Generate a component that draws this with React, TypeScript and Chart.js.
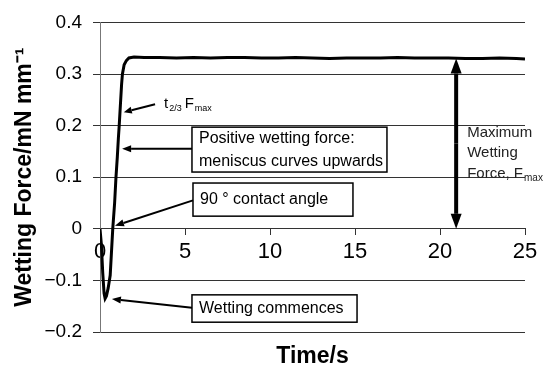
import React, { useEffect, useRef } from 'react';
import { Chart, registerables } from 'chart.js';

Chart.register(...registerables);

// ---- data ----
const timeS = [0, 0.08, 0.16, 0.24, 0.3, 0.38, 0.48, 0.6, 0.75, 0.86, 0.94, 1.02, 1.08, 1.13, 1.2, 1.27, 1.32, 1.42, 1.55, 1.7, 2.0, 2.6, 3.5, 4.5, 5.5, 6.5, 7.5, 8.5, 9.5, 10.5, 11.5, 12.5, 13.5, 14.5, 15.5, 16.5, 17.5, 18.5, 19.5, 20.5, 21.5, 22.5, 23.5, 24.5, 25];
const wettingForce = [0, -0.03, -0.085, -0.125, -0.135, -0.13, -0.115, -0.09, 0, 0.05, 0.1, 0.14, 0.175, 0.2, 0.24, 0.28, 0.3, 0.318, 0.326, 0.331, 0.333, 0.332, 0.332, 0.331, 0.332, 0.331, 0.332, 0.332, 0.331, 0.331, 0.332, 0.331, 0.330, 0.331, 0.331, 0.331, 0.332, 0.331, 0.331, 0.331, 0.330, 0.330, 0.331, 0.330, 0.329];
const yTickLabels = ['\u22120.2', '\u22120.1', '0', '0.1', '0.2', '0.3', '0.4'];
const xAxisTitle = 'Time/s';
const yAxisTitle = 'Wetting Force/mN mm\u207B\u00B9';
const fMax = 0.33;
const fMaxArrowTime = 20.95;
const tLabelMain = ['t', 'F'];
const tLabelSubs = ['2/3', 'max'];
const boxNotes = [
  { lines: ['Positive wetting force:', 'meniscus curves upwards'], t0: 5.41, t1: 16.88, v0: 0.197, v1: 0.11, fromV: 0.155, tipT: 1.3, tipV: 0.155 },
  { lines: ['90 \u00B0 contact angle'], t0: 5.47, t1: 14.88, v0: 0.0887, v1: 0.0245, fromV: 0.055, tipT: 0.88, tipV: 0.006 },
  { lines: ['Wetting commences'], t0: 5.41, t1: 15.12, v0: -0.128, v1: -0.181, fromV: -0.153, tipT: 0.7, tipV: -0.136 },
];
const maxLabelLines = ['Maximum', 'Wetting', 'Force, F'];

const FONT = '"Liberation Sans", Arial, sans-serif';

function arrow(ctx: CanvasRenderingContext2D, x1: number, y1: number, x2: number, y2: number, lw: number, hl: number, hw: number) {
  const ang = Math.atan2(y2 - y1, x2 - x1);
  const bx = x2 - hl * Math.cos(ang);
  const by = y2 - hl * Math.sin(ang);
  ctx.lineWidth = lw;
  ctx.beginPath();
  ctx.moveTo(x1, y1);
  ctx.lineTo(bx, by);
  ctx.stroke();
  ctx.beginPath();
  ctx.moveTo(x2, y2);
  ctx.lineTo(bx + (hw / 2) * Math.sin(ang), by - (hw / 2) * Math.cos(ang));
  ctx.lineTo(bx - (hw / 2) * Math.sin(ang), by + (hw / 2) * Math.cos(ang));
  ctx.closePath();
  ctx.fill();
}

const annotationPlugin = {
  id: 'wettingAnnotations',
  afterDatasetsDraw(chart: any) {
    const { ctx, scales } = chart;
    const x = scales.x;
    const y = scales.y;
    const px = (t: number) => x.getPixelForValue(t);
    const py = (v: number) => y.getPixelForValue(v);
    ctx.save();
    ctx.strokeStyle = '#000';
    ctx.fillStyle = '#000';

    // t2/3 Fmax label
    const lx = px(3.53);
    const ly = py(0.2415);
    arrow(ctx, px(3.24), ly, px(1.4), py(0.226), 2, 8, 7);
    ctx.textBaseline = 'middle';
    ctx.textAlign = 'left';
    let cx = lx + 4;
    for (let i = 0; i < tLabelMain.length; i++) {
      ctx.font = `15px ${FONT}`;
      ctx.fillText(tLabelMain[i], cx, ly);
      cx += ctx.measureText(tLabelMain[i]).width + 1;
      ctx.font = `9px ${FONT}`;
      ctx.fillText(tLabelSubs[i], cx, ly + 4);
      cx += ctx.measureText(tLabelSubs[i]).width + 3;
    }

    // boxed notes
    for (const b of boxNotes) {
      const x0 = px(b.t0), x1 = px(b.t1), y0 = py(b.v0), y1 = py(b.v1);
      ctx.fillStyle = '#fff';
      ctx.fillRect(x0, y0, x1 - x0, y1 - y0);
      ctx.lineWidth = 1.5;
      ctx.strokeStyle = '#000';
      ctx.strokeRect(x0, y0, x1 - x0, y1 - y0);
      ctx.fillStyle = '#000';
      ctx.font = `16px ${FONT}`;
      ctx.textAlign = 'left';
      ctx.textBaseline = 'middle';
      const n = b.lines.length;
      const h = y1 - y0;
      const lh = 23;
      const startY = y0 + h / 2 - ((n - 1) * lh) / 2;
      b.lines.forEach((s, i) => ctx.fillText(s, x0 + 7, startY + i * lh));
      arrow(ctx, x0, py(b.fromV), px(b.tipT), py(b.tipV), 2, 9, 7);
    }

    // maximum wetting force double arrow
    const ax = px(fMaxArrowTime);
    const top = py(fMax);
    const bot = py(0);
    const mid = (top + bot) / 2;
    arrow(ctx, ax, mid, ax, top, 4, 15, 11);
    arrow(ctx, ax, mid, ax, bot, 4, 15, 11);

    ctx.fillStyle = '#222';
    ctx.font = `15px ${FONT}`;
    ctx.textAlign = 'left';
    ctx.textBaseline = 'middle';
    const tx = ax + 11;
    const baseY = py(0.186);
    maxLabelLines.forEach((s, i) => {
      ctx.font = `15px ${FONT}`;
      ctx.fillText(s, tx, baseY + i * 20.5);
      if (i === maxLabelLines.length - 1) {
        const w = ctx.measureText(s).width;
        ctx.font = `10px ${FONT}`;
        ctx.fillText('max', tx + w + 1, baseY + i * 20.5 + 4);
      }
    });
    ctx.restore();
  },
};

export default function App() {
  const ref = useRef<HTMLCanvasElement | null>(null);
  useEffect(() => {
    document.body.style.margin = '0';
    const canvas = ref.current;
    if (!canvas) return;
    const chart = new Chart(canvas, {
      type: 'line',
      data: {
        datasets: [
          {
            data: timeS.map((t, i) => ({ x: t, y: wettingForce[i] })),
            borderColor: '#000',
            borderWidth: 3,
            pointRadius: 0,
            tension: 0,
            fill: false,
          },
        ],
      },
      options: {
        responsive: false,
        animation: false,
        layout: { padding: { top: 14, right: 24, left: 0, bottom: 0 } },
        plugins: { legend: { display: false }, tooltip: { enabled: false } },
        scales: {
          x: {
            type: 'linear',
            axis: 'x',
            position: { y: 0 } as any,
            min: 0,
            max: 25,
            ticks: { stepSize: 5, font: { size: 22, family: FONT }, color: '#000', padding: 4, maxRotation: 0 },
            grid: { drawOnChartArea: false, drawTicks: true, tickLength: 6, color: '#333' },
            border: { display: true, color: '#333', width: 1 },
          },
          x2: {
            type: 'linear',
            axis: 'x',
            position: 'bottom',
            ticks: { display: false },
            grid: { display: false, drawTicks: false },
            border: { display: false },
            title: { display: true, text: xAxisTitle, font: { size: 23, weight: 'bold', family: FONT }, color: '#000', padding: { top: 0, bottom: 0 } },
            afterFit: (s: any) => { s.height = 38; },
          },
          y: {
            type: 'linear',
            min: -0.2,
            max: 0.4,
            ticks: { stepSize: 0.1, callback: (_v: any, i: number) => yTickLabels[i], font: { size: 19, family: FONT }, color: '#000', padding: 11 },
            grid: { color: '#333', lineWidth: 1, tickLength: 7 },
            border: { display: true, color: '#777', width: 1 },
            title: { display: true, text: yAxisTitle, font: { size: 23, weight: 'bold', family: FONT }, color: '#000', padding: { top: 11, bottom: 0 } },
            afterFit: (s: any) => { s.width = 100; },
          },
        },
      },
      plugins: [annotationPlugin],
    } as any);
    return () => chart.destroy();
  }, []);
  return (
    <div style={{ position: 'fixed', left: 0, top: 0, width: 549, height: 370, background: '#fff' }}>
      <canvas ref={ref} width={549} height={370} />
    </div>
  );
}
